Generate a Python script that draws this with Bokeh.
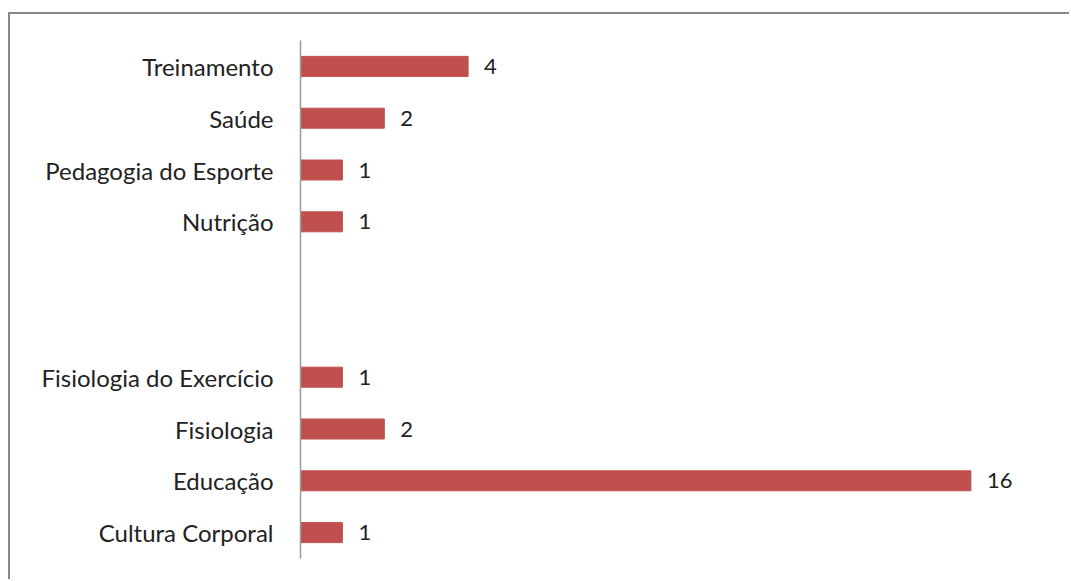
from bokeh.plotting import figure
from bokeh.models import ColumnDataSource, FixedTicker, Range1d, LabelSet
from bokeh.core.properties import value
from bokeh.embed import file_html
from bokeh.resources import INLINE

categories = ["Cultura Corporal", "Educação", "Fisiologia", "Fisiologia do Exercício",
              "", "", "Nutrição", "Pedagogia do Esporte", "Saúde", "Treinamento"]
values = [1, 16, 2, 1, None, None, 1, 1, 2, 4]

positions = list(range(len(categories)))
bar_y = [pos for pos, v in zip(positions, values) if v is not None]
bar_v = [v for v in values if v is not None]
src = ColumnDataSource(dict(y=bar_y, v=bar_v, lbl=[str(v) for v in bar_v]))

OX, OY = 10, 14  # offset of the figure inside the window (margin + border)
W, H = 1071 - OX, 581 - OY
left_px = 300 - OX
top_px = 40 - OY
frame_w = W - left_px

p = figure(width=W, height=H, output_backend="svg", toolbar_location=None,
           x_range=Range1d(0, frame_w / 41.9), y_range=Range1d(-0.5, len(categories) - 0.5),
           min_border_left=left_px, min_border_right=0, min_border_top=top_px,
           min_border_bottom=H - top_px - 518)
p.margin = (12, 0, 0, 8)
p.styles = {"border-left": "2px solid #888888", "border-top": "2px solid #888888"}
p.hbar(y="y", right="v", left=0, height=0.386, source=src, color="#C0504D")
p.add_layout(LabelSet(x="v", y="y", text="lbl", source=src, x_offset=16, y_offset=0,
                      text_baseline="middle", text_font=value("Lato"), text_font_size="22px",
                      text_color="#222222"))

p.xaxis.visible = False
p.xgrid.visible = False
p.ygrid.visible = False
p.outline_line_color = None
ya = p.yaxis[0]
ya.ticker = FixedTicker(ticks=positions)
ya.major_label_overrides = {i: c for i, c in zip(positions, categories)}
ya.major_tick_line_color = None
ya.minor_tick_line_color = None
ya.axis_line_color = "#9a9a9a"
ya.axis_line_width = 1.5
ya.major_label_standoff = 21
ya.major_label_text_font = "Lato"
ya.major_label_text_font_size = "24px"
ya.major_label_text_color = "#222222"

open("out.html", "w").write(file_html(p, INLINE))
